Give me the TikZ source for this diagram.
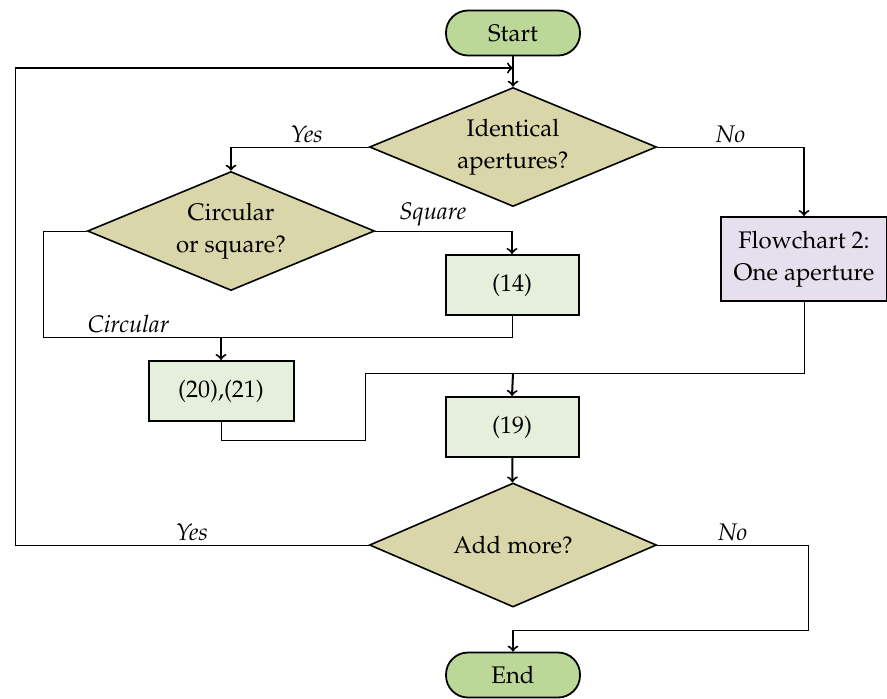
\documentclass[tikz,border=0pt]{standalone}
\usepackage[T1]{fontenc}
\usepackage{mathpazo}
\usepackage{tikz}
\usetikzlibrary{shapes.geometric}

\definecolor{termfill}{RGB}{187,216,152}
\definecolor{decfill}{RGB}{217,214,170}
\definecolor{procfill}{RGB}{230,239,220}
\definecolor{subfill}{RGB}{230,224,238}

\begin{document}
\begin{tikzpicture}[x=0.5pt, y=-0.5pt, font=\fontsize{12}{16}\selectfont,
  term/.style = {draw, line width=0.9pt, fill=termfill, rounded corners=11pt, minimum width=67pt, minimum height=22.5pt},
  dec/.style = {draw, line width=0.8pt, fill=decfill, diamond, aspect=2.4, inner sep=0pt, minimum width=143.5pt, minimum height=59.5pt, align=center},
  proc/.style = {draw, line width=1pt, fill=procfill, minimum width=66.5pt, minimum height=30pt, align=center},
  sub/.style = {draw, line width=1pt, fill=subfill, minimum width=83pt, minimum height=42pt, align=center},
  line/.style = {draw, line width=0.5pt},
  arr/.style = {draw, line width=1pt, ->},
  lbl/.style = {font=\fontsize{12}{16}\selectfont\itshape, inner sep=2pt}]
\useasboundingbox (0,0) rectangle (887,698);

\node[term] (start) at (513,33) {Start};
\node[dec] (ident) at (513,147) {Identical\\apertures?};
\node[dec] (circ) at (231,231) {Circular\\or square?};
\node[proc] (sq) at (512,285) {(14)};
\node[sub] (fc) at (804,259) {Flowchart 2:\\One aperture};
\node[proc, minimum width=72.5pt] (cc) at (221,391) {(20),(21)};
\node[proc] (eq) at (512,427) {(19)};
\node[dec, minimum height=62pt] (add) at (513,545) {Add more?};
\node[term] (end) at (513,675) {End};

\coordinate (lb) at (15,545);
\coordinate (lt) at (15,68);
\coordinate (cl) at (43,337);
\coordinate (cj) at (221,337);
\coordinate (mj) at (513,373);
\coordinate (ej) at (513,630);

\draw[arr] (start) -- (ident);
\draw[line] (add.west) -- node[lbl, above] {Yes} (lb) -- (lt);
\draw[arr] (lt) -- (lt -| start.south);

\draw[line] (ident.west) -- node[lbl, above, pos=0.45] {Yes} (ident.west -| circ.north) coordinate (yj);
\draw[arr] (yj) -- (circ.north);
\draw[line] (ident.east) -- node[lbl, above] {No} (ident.east -| fc.north) coordinate (nj);
\draw[arr] (nj) -- (fc.north);

\draw[line] (circ.east) -- node[lbl, above, pos=0.42] {Square} (circ.east -| sq.north) coordinate (sj);
\draw[arr] (sj) -- (sq.north);
\draw[line] (circ.west) -| (cl) -- node[lbl, above, pos=0.48] {Circular} (cj);
\draw[line] (sq.south) |- (cj);
\draw[arr] (cj) -- (cc.north);

\draw[line] (cc.south) |- (365,440) |- (mj);
\draw[line] (fc.south) |- (mj);
\draw[arr] (mj) -- (eq.north);
\draw[arr] (eq) -- (add);

\draw[line] (add.east) -- node[lbl, above] {No} (808,545) |- (ej);
\draw[arr] (ej) -- (end.north);
\end{tikzpicture}
\end{document}
